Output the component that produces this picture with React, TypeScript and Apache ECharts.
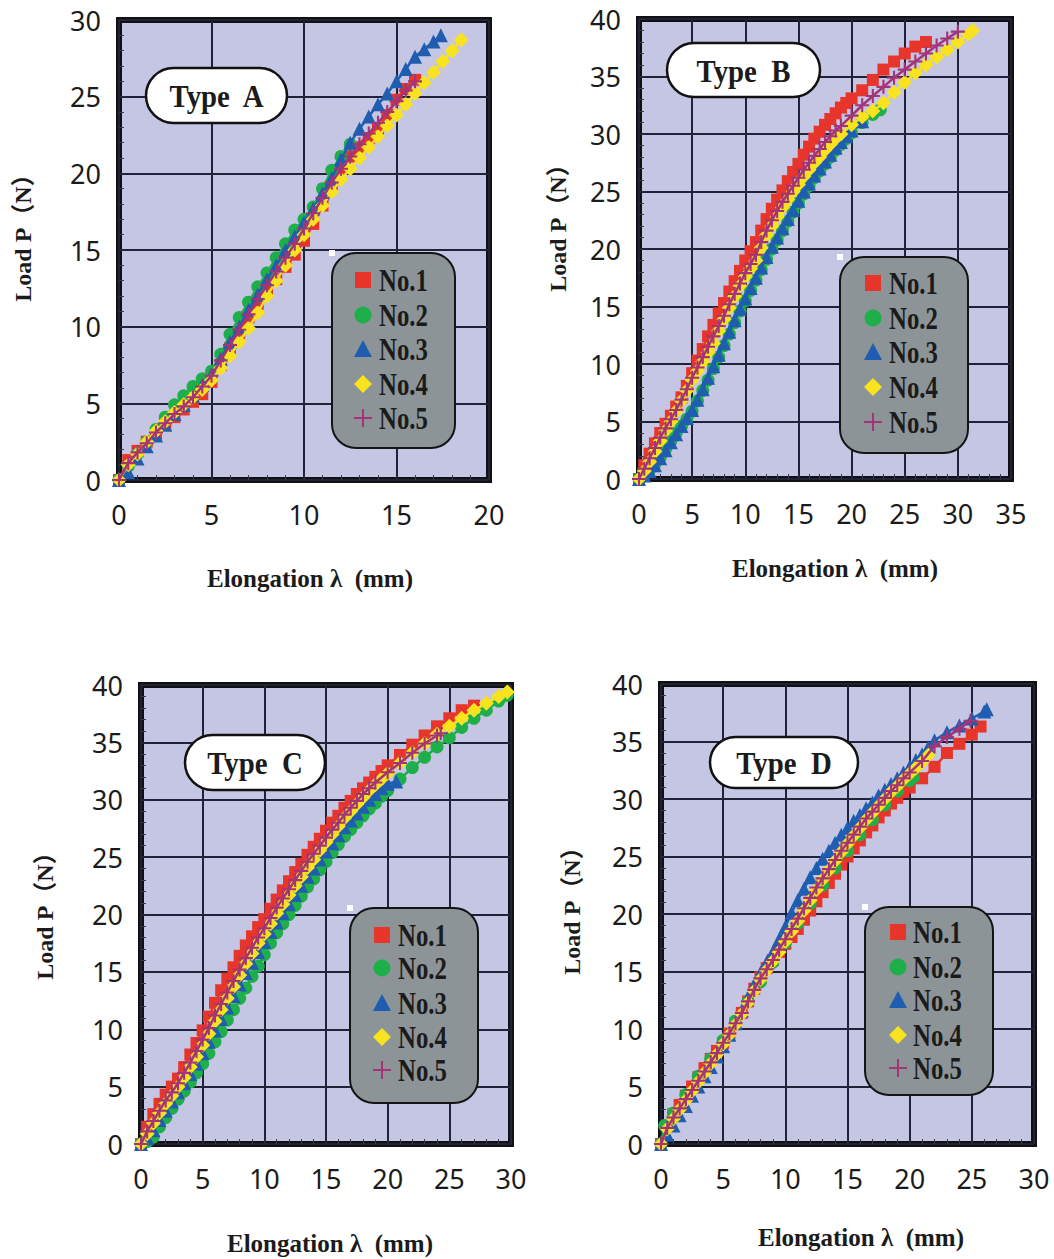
import React, { useEffect, useRef } from "react";
import * as echarts from "echarts";

// ---------- data ----------
const SERIES_NAMES = ["No.1", "No.2", "No.3", "No.4", "No.5"];
const PANEL_TITLES = ["Type  A", "Type  B", "Type  C", "Type  D"];
const X_TITLE = "Elongation λ  (mm)";
const Y_TITLE = "Load P（N）";
const X_MAX = [20, 35, 30, 30];
const Y_MAX = [30, 40, 40, 40];
const TICK_STEP = 5;

// flat [x, y, x, y, ...] lists
const A1 = [0,0, .5,1.3, 1,1.9, 1.5,2.5, 2,3.0, 2.5,3.6, 3,4.1, 3.5,4.6, 4,5.1, 4.5,5.6, 5,6.4, 5.5,7.5, 6,8.6, 6.5,9.6, 7,10.6, 7.5,11.5, 8,12.3, 8.5,13.1, 9,13.9, 9.5,14.7, 10,15.6, 10.5,16.7, 11,17.9, 11.5,19.1, 12,20.3, 12.5,21.1, 13,21.7, 13.5,22.3, 14,22.9, 14.5,23.8, 15,24.8, 15.5,25.5, 16,26.1];
const A2 = [0,0, .5,0.9, 1,1.7, 1.5,2.5, 2,3.3, 2.5,4.1, 3,4.9, 3.5,5.5, 4,6.1, 4.5,6.6, 5,7.1, 5.5,8.2, 6,9.5, 6.5,10.6, 7,11.6, 7.5,12.6, 8,13.5, 8.5,14.5, 9,15.4, 9.5,16.3, 10,17.0, 10.5,17.8, 11,19.0, 11.5,20.2, 12,21.1, 12.5,21.9];
const A3 = [0,0, .5,0.5, 1,1.4, 1.5,2.2, 2,2.9, 2.5,3.6, 3,4.3, 3.5,4.9, 4,5.5, 4.5,6.2, 5,6.9, 5.5,7.9, 6,9.0, 6.5,10.0, 7,11.1, 7.5,12.1, 8,13.1, 8.5,14.0, 9,15.0, 9.5,15.9, 10,16.8, 10.5,17.7, 11,18.7, 11.5,19.7, 12,20.9, 12.5,22.0, 13,22.9, 13.5,23.7, 14,24.5, 14.5,25.2, 15,26.0, 15.5,26.8, 16,27.6, 16.5,28.1, 17,28.6, 17.4,29.0];
const A4 = [0,0, .5,1.0, 1,1.7, 1.5,2.5, 2,3.2, 2.5,3.8, 3,4.4, 3.5,4.9, 4,5.4, 4.5,5.9, 5,6.5, 5.5,7.3, 6,8.1, 6.5,9.0, 7,9.9, 7.5,10.9, 8,12.0, 8.5,13.0, 9,14.0, 9.5,15.0, 10,16.0, 10.5,17.0, 11,17.9, 11.5,18.8, 12,19.6, 12.5,20.3, 13,21.0, 13.5,21.7, 14,22.4, 14.5,23.1, 15,23.8, 15.5,24.5, 16,25.2, 16.5,25.9, 17,26.6, 17.5,27.3, 18,28.0, 18.5,28.7];
const A5 = [0,0, .5,1.1, 1,1.8, 1.5,2.4, 2,3.1, 2.5,3.7, 3,4.3, 3.5,4.8, 4,5.4, 4.5,6.1, 5,6.8, 5.5,7.8, 6,8.8, 6.5,9.8, 7,10.8, 7.5,11.8, 8,12.7, 8.5,13.6, 9,14.5, 9.5,15.4, 10,16.4, 10.5,17.4, 11,18.4, 11.5,19.4, 12,20.3, 12.5,21.1, 13,21.9, 13.5,22.6, 14,23.3, 14.5,24.0, 15,24.7, 15.5,25.4, 16,26.0];

const B1 = [0,0, .5,1.2, 1,2.2, 1.5,3.1, 2,4.0, 2.5,4.8, 3,5.5, 3.5,6.3, 4,7.1, 4.5,8.1, 5,9.2, 5.5,10.3, 6,11.3, 6.5,12.4, 7,13.4, 7.5,14.4, 8,15.3, 8.5,16.3, 9,17.2, 9.5,18.1, 10,19.0, 10.5,19.8, 11,20.6, 11.5,21.6, 12,22.6, 12.5,23.5, 13,24.3, 13.5,25.1, 14,25.9, 14.5,26.7, 15,27.4, 15.5,28.2, 16,28.9, 16.5,29.6, 17,30.2, 17.5,30.8, 18,31.3, 18.5,31.8, 19,32.3, 19.5,32.7, 20,33.1, 21,33.8, 22,34.7, 23,35.6, 24,36.3, 25,37.0, 26,37.6, 27,38.0];
const B2 = [0,0, .5,0.4, 1,0.8, 1.5,1.3, 2,1.9, 2.5,2.6, 3,3.3, 3.5,4.0, 4,4.6, 4.5,5.2, 5,5.9, 5.5,6.8, 6,7.7, 6.5,8.6, 7,9.6, 7.5,10.6, 8,11.6, 8.5,12.6, 9,13.6, 9.5,14.6, 10,15.5, 10.5,16.4, 11,17.3, 11.5,18.2, 12,19.1, 12.5,20.0, 13,20.8, 13.5,21.6, 14,22.4, 14.5,23.2, 15,24.0, 15.5,24.8, 16,25.5, 16.5,26.2, 17,26.8, 17.5,27.4, 18,28.0, 18.5,28.6, 19,29.1, 19.5,29.6, 20,30.1, 21,31.0, 22,31.7, 22.7,32.1];
const B3 = [0,0, .5,0.3, 1,0.7, 1.5,1.2, 2,1.8, 2.5,2.5, 3,3.2, 3.5,3.9, 4,4.6, 4.5,5.3, 5,6.0, 5.5,6.9, 6,7.8, 6.5,8.8, 7,9.8, 7.5,10.8, 8,11.8, 8.5,12.8, 9,13.8, 9.5,14.8, 10,15.7, 10.5,16.6, 11,17.5, 11.5,18.4, 12,19.3, 12.5,20.2, 13,21.0, 13.5,21.8, 14,22.6, 14.5,23.4, 15,24.2, 15.5,25.0, 16,25.7, 16.5,26.4, 17,27.0, 17.5,27.6, 18,28.2, 18.5,28.8, 19,29.3, 19.5,29.8, 20,30.3, 21,31.1];
const B4 = [0,0, .5,0.7, 1,1.5, 1.5,2.4, 2,3.3, 2.5,4.2, 3,5.0, 3.5,5.9, 4,6.8, 4.5,7.7, 5,8.6, 5.5,9.4, 6,10.2, 6.5,11.0, 7,11.8, 7.5,12.9, 8,13.9, 8.5,14.9, 9,15.9, 9.5,16.8, 10,17.6, 10.5,18.3, 11,19.0, 11.5,20.1, 12,21.2, 12.5,22.0, 13,22.8, 13.5,23.6, 14,24.3, 14.5,25.0, 15,25.6, 15.5,26.3, 16,26.9, 16.5,27.5, 17,28.0, 17.5,28.6, 18,29.1, 18.5,29.6, 19,30.0, 20,30.8, 21,31.5, 22,32.0, 23,32.7, 24,33.6, 25,34.5, 26,35.3, 27,36.0, 28,36.7, 29,37.3, 30,38.0, 31,38.7, 31.4,39.0];
const B5 = [0,0, .5,0.9, 1,1.8, 1.5,2.7, 2,3.6, 2.5,4.4, 3,5.2, 3.5,6.0, 4,6.9, 4.5,7.8, 5,8.8, 5.5,9.7, 6,10.6, 6.5,11.5, 7,12.4, 7.5,13.3, 8,14.2, 8.5,15.2, 9,16.1, 9.5,17.0, 10,17.9, 10.5,18.7, 11,19.5, 11.5,20.6, 12,21.6, 12.5,22.5, 13,23.3, 13.5,24.1, 14,24.8, 14.5,25.5, 15,26.2, 15.5,26.9, 16,27.5, 16.5,28.1, 17,28.7, 17.5,29.3, 18,29.8, 18.5,30.3, 19,30.7, 20,31.6, 21,32.5, 22,33.3, 23,34.1, 24,34.9, 25,35.6, 26,36.3, 27,37.0, 28,37.7, 29,38.3, 30,38.9];

const C1 = [0,0, .5,1.5, 1,2.6, 1.5,3.5, 2,4.3, 2.5,5.0, 3,5.7, 3.5,6.7, 4,7.8, 4.5,8.8, 5,9.9, 5.5,11.1, 6,12.3, 6.5,13.4, 7,14.4, 7.5,15.4, 8,16.4, 8.5,17.3, 9,18.1, 9.5,18.9, 10,19.6, 10.5,20.5, 11,21.3, 11.5,22.1, 12,22.9, 12.5,23.7, 13,24.4, 13.5,25.2, 14,25.9, 14.5,26.6, 15,27.3, 15.5,28.0, 16,28.6, 16.5,29.3, 17,29.9, 17.5,30.5, 18,31.0, 18.5,31.5, 19,32.0, 19.5,32.5, 20,33.0, 21,33.9, 22,34.8, 23,35.6, 24,36.4, 25,37.1, 26,37.8, 27,38.2];
const C2 = [0,0, .5,0.2, 1,0.6, 1.5,1.5, 2,2.3, 2.5,3.1, 3,3.9, 3.5,4.6, 4,5.4, 4.5,6.2, 5,7.0, 5.5,7.9, 6,8.9, 6.5,9.8, 7,10.8, 7.5,11.7, 8,12.7, 8.5,13.6, 9,14.6, 9.5,15.5, 10,16.5, 10.5,17.5, 11,18.4, 11.5,19.2, 12,20.0, 12.5,20.8, 13,21.6, 13.5,22.4, 14,23.1, 14.5,23.9, 15,24.6, 15.5,25.4, 16,26.1, 16.5,26.8, 17,27.4, 17.5,28.0, 18,28.6, 18.5,29.2, 19,29.7, 19.5,30.3, 20,30.8, 21,31.8, 22,32.8, 23,33.7, 24,34.6, 25,35.4, 26,36.3, 27,37.1, 28,37.8, 29,38.6, 29.7,39.1];
const C3 = [0,0, .5,0.5, 1,1.2, 1.5,2.1, 2,2.9, 2.5,3.7, 3,4.5, 3.5,5.3, 4,6.1, 4.5,7.0, 5,7.9, 5.5,8.9, 6,9.9, 6.5,10.9, 7,11.9, 7.5,12.9, 8,13.9, 8.5,14.9, 9,15.8, 9.5,16.7, 10,17.6, 10.5,18.5, 11,19.3, 11.5,20.1, 12,20.9, 12.5,21.7, 13,22.5, 13.5,23.3, 14,24.0, 14.5,24.8, 15,25.5, 15.5,26.2, 16,26.9, 16.5,27.6, 17,28.2, 17.5,28.8, 18,29.4, 18.5,30.0, 19,30.5, 19.5,31.0, 20,31.4, 20.7,31.6];
const C4 = [0,0, .5,0.9, 1,1.8, 1.5,2.7, 2,3.5, 2.5,4.2, 3,5.0, 3.5,5.8, 4,6.7, 4.5,7.6, 5,8.6, 5.5,9.6, 6,10.7, 6.5,11.7, 7,12.7, 7.5,13.7, 8,14.7, 8.5,15.7, 9,16.6, 9.5,17.5, 10,18.3, 10.5,19.2, 11,20.1, 11.5,20.9, 12,21.7, 12.5,22.5, 13,23.3, 13.5,24.1, 14,24.8, 14.5,25.6, 15,26.3, 15.5,27.0, 16,27.7, 16.5,28.4, 17,29.0, 17.5,29.6, 18,30.2, 18.5,30.8, 19,31.3, 19.5,31.8, 20,32.3, 21,33.2, 22,34.1, 23,34.9, 24,35.7, 25,36.4, 26,37.1, 27,37.8, 28,38.4, 29,39.0, 29.7,39.4];
const C5 = [0,0, .5,1.1, 1,2.0, 1.5,2.9, 2,3.8, 2.5,4.5, 3,5.3, 3.5,6.2, 4,7.1, 4.5,8.1, 5,9.1, 5.5,10.1, 6,11.2, 6.5,12.2, 7,13.2, 7.5,14.2, 8,15.2, 8.5,16.2, 9,17.1, 9.5,18.0, 10,18.8, 10.5,19.7, 11,20.6, 11.5,21.4, 12,22.2, 12.5,23.0, 13,23.8, 13.5,24.6, 14,25.3, 14.5,26.0, 15,26.7, 15.5,27.4, 16,28.0, 16.5,28.7, 17,29.3, 17.5,29.9, 18,30.5, 18.5,31.0, 19,31.5, 20,32.4, 21,33.2, 22,34.1, 23,34.9, 24,35.6, 24.3,35.8];

const D1 = [0,0, .5,1.6, 1,2.6, 1.5,3.4, 2,4.2, 2.5,5.0, 3,5.8, 3.5,6.6, 4,7.4, 4.5,8.1, 5,8.8, 5.5,9.6, 6,10.5, 6.5,11.4, 7,12.4, 7.5,13.5, 8,14.5, 8.5,15.3, 9,16.0, 9.5,16.7, 10,17.4, 10.5,18.0, 11,18.7, 11.5,19.5, 12,20.3, 12.5,21.1, 13,21.9, 13.5,22.7, 14,23.5, 14.5,24.3, 15,25.0, 15.5,25.7, 16,26.4, 16.5,27.1, 17,27.7, 17.5,28.4, 18,29.0, 18.5,29.6, 19,30.1, 19.5,30.6, 20,31.0, 21,31.8, 22,32.8, 23,34.0, 24,34.8, 25,35.6, 25.7,36.3];
const D2 = [0,0, 0.3,1.6, 1,2.7, 2,4.3, 3,5.9, 4,7.4, 5,9.0, 6,10.7, 7,12.4, 8,14.1, 9,15.8, 10,17.5, 11,19.2, 12,20.9, 13,22.5, 14,24.0, 15,25.5, 16,26.9, 17,28.2, 18,29.5, 19,30.7, 20,31.6, 20.3,31.9];
const D3 = [0,0, .5,0.8, 1,1.6, 1.5,2.5, 2,3.3, 2.5,4.2, 3,5.0, 3.5,5.9, 4,6.7, 4.5,7.6, 5,8.5, 5.5,9.5, 6,10.5, 6.5,11.6, 7,12.8, 7.5,13.9, 8,14.9, 8.5,15.8, 9,16.7, 9.5,17.8, 10,18.9, 10.5,20.1, 11,21.2, 11.5,22.2, 12,23.2, 12.5,24.0, 13,24.8, 13.5,25.5, 14,26.2, 14.5,26.9, 15,27.5, 15.5,28.1, 16,28.6, 16.5,29.2, 17,29.7, 17.5,30.3, 18,30.8, 18.5,31.3, 19,31.8, 19.5,32.3, 20,32.8, 20.5,33.4, 21,33.9, 21.5,34.5, 22,35.1, 23,35.8, 24,36.4, 25,37.0, 26,37.6, 26.2,37.8];
const D4 = [0,0, .5,1.3, 1,2.2, 1.5,3.0, 2,3.8, 2.5,4.6, 3,5.4, 3.5,6.2, 4,7.0, 4.5,7.8, 5,8.7, 5.5,9.5, 6,10.4, 6.5,11.3, 7,12.3, 7.5,13.3, 8,14.3, 8.5,15.1, 9,15.9, 9.5,16.7, 10,17.6, 10.5,18.5, 11,19.4, 11.5,20.3, 12,21.2, 12.5,22.1, 13,23.0, 13.5,23.8, 14,24.6, 14.5,25.4, 15,26.1, 15.5,26.8, 16,27.5, 16.5,28.2, 17,28.8, 17.5,29.4, 18,30.0, 18.5,30.6, 19,31.1, 19.5,31.7, 20,32.2, 20.5,32.7, 21,33.2, 21.5,33.8];
const D5 = [0,0, .5,1.4, 1,2.3, 1.5,3.1, 2,3.9, 2.5,4.7, 3,5.5, 3.5,6.3, 4,7.1, 4.5,7.9, 5,8.8, 5.5,9.6, 6,10.5, 6.5,11.4, 7,12.4, 7.5,13.4, 8,14.4, 8.5,15.2, 9,16.0, 9.5,16.9, 10,17.8, 10.5,18.7, 11,19.6, 11.5,20.5, 12,21.4, 12.5,22.3, 13,23.1, 13.5,23.9, 14,24.7, 14.5,25.5, 15,26.2, 15.5,26.9, 16,27.6, 16.5,28.3, 17,28.9, 17.5,29.5, 18,30.1, 18.5,30.7, 19,31.2, 19.5,31.8, 20,32.3, 21,33.3, 22,34.6, 23,35.4, 24,36.1, 24.9,36.8];

const PANEL_DATA = [
  [A1, A2, A3, A4, A5],
  [B1, B2, B3, B4, B5],
  [C1, C2, C3, C4, C5],
  [D1, D2, D3, D4, D5],
];

// ---------- styles & layout ----------
const PLUS_PATH = "path://M5.1,0H6.9V5.1H12V6.9H6.9V12H5.1V6.9H0V5.1H5.1Z";
const SYMBOLS = ["rect", "circle", "triangle", "diamond", PLUS_PATH];
const SYMBOL_SIZES = [12, 13, 14, 15, 14];
const COLORS = ["#e8352c", "#1faf4a", "#1f5db0", "#f9e21e", "#a33477"];

const LAYOUT = [
  { grid: { left: 119, top: 20, width: 370, height: 460 }, pill: { x: 146, y: 68, w: 141, h: 55 },
    legend: { x: 332, y: 253, w: 123, h: 195, rows: [280, 315, 349, 384, 418], iconX: 363, textX: 379 },
    xTitle: { x: 310, y: 578 }, yTitle: { x: 23, y: 232 } },
  { grid: { left: 639, top: 19, width: 372, height: 460 }, pill: { x: 667, y: 43, w: 153, h: 54 },
    legend: { x: 840, y: 257, w: 128, h: 196, rows: [283, 318, 352, 387, 422], iconX: 873, textX: 889 },
    xTitle: { x: 835, y: 568 }, yTitle: { x: 558, y: 222 } },
  { grid: { left: 141, top: 685, width: 370, height: 459 }, pill: { x: 185, y: 735, w: 140, h: 55 },
    legend: { x: 350, y: 908, w: 128, h: 195, rows: [935, 968, 1003, 1037, 1070], iconX: 382, textX: 398 },
    xTitle: { x: 330, y: 1243 }, yTitle: { x: 45, y: 910 } },
  { grid: { left: 661, top: 684, width: 373, height: 460 }, pill: { x: 710, y: 737, w: 148, h: 51 },
    legend: { x: 865, y: 907, w: 128, h: 188, rows: [932, 967, 1000, 1035, 1068], iconX: 898, textX: 913 },
    xTitle: { x: 861, y: 1237 }, yTitle: { x: 572, y: 905 } },
];

const SERIF = '"Liberation Serif", "Times New Roman", "Noto Sans CJK JP", serif';
const SANS = '"Noto Sans", "Open Sans", sans-serif';
const TEXT_COLOR = "#1b1b1b";

function pairs(flat: number[]): number[][] {
  const out: number[][] = [];
  for (let i = 0; i + 1 < flat.length; i += 2) out.push([flat[i], flat[i + 1]]);
  return out;
}

function txt(x: number, y: number, text: string, font: string, align: string, extra: any = {}) {
  return {
    type: "text", x, y, z: 100, silent: true, ...extra,
    style: { text, font, fill: TEXT_COLOR, align, textAlign: align, verticalAlign: "middle", textVerticalAlign: "middle" },
  };
}

function legendIcon(k: number, cx: number, cy: number): any[] {
  const c = COLORS[k];
  const base = { z: 101, silent: true };
  if (k === 0) return [{ type: "rect", ...base, shape: { x: cx - 8, y: cy - 8, width: 16, height: 16 }, style: { fill: c } }];
  if (k === 1) return [{ type: "circle", ...base, shape: { cx, cy, r: 8.5 }, style: { fill: c } }];
  if (k === 2) return [{ type: "polygon", ...base, shape: { points: [[cx, cy - 9], [cx + 9, cy + 8], [cx - 9, cy + 8]] }, style: { fill: c } }];
  if (k === 3) return [{ type: "polygon", ...base, shape: { points: [[cx, cy - 9], [cx + 9, cy], [cx, cy + 9], [cx - 9, cy]] }, style: { fill: c } }];
  return [
    { type: "rect", ...base, shape: { x: cx - 9, y: cy - 1, width: 18, height: 2 }, style: { fill: c } },
    { type: "rect", ...base, shape: { x: cx - 1, y: cy - 9, width: 2, height: 18 }, style: { fill: c } },
  ];
}

function buildOption() {
  const grid: any[] = [];
  const xAxis: any[] = [];
  const yAxis: any[] = [];
  const series: any[] = [];
  const graphic: any[] = [];

  const axisCommon = {
    type: "value",
    interval: TICK_STEP,
    min: 0,
    axisLine: { show: false },
    axisTick: { show: true, inside: true, length: 6, lineStyle: { color: "#2a2a3a", width: 1 } },
    minorTick: { show: true, splitNumber: 5, length: 5, lineStyle: { color: "#3a3a4a", width: 1 } },
    splitLine: { show: true, lineStyle: { color: "#20223a", width: 2 } },
    minorSplitLine: { show: false },
  };

  LAYOUT.forEach((L, i) => {
    grid.push({
      ...L.grid, show: true, backgroundColor: "#c4c6e3", borderColor: "#111111", borderWidth: 6,
    });
    xAxis.push({
      ...axisCommon, gridIndex: i, max: X_MAX[i],
      axisLabel: { margin: 21, fontSize: 27, fontFamily: SANS, color: TEXT_COLOR },
    });
    yAxis.push({
      ...axisCommon, gridIndex: i, max: Y_MAX[i],
      axisLabel: { margin: 18, fontSize: 27, fontFamily: SANS, color: TEXT_COLOR },
    });

    PANEL_DATA[i].forEach((flat, k) => {
      series.push({
        type: "line",
        name: SERIES_NAMES[k],
        xAxisIndex: i,
        yAxisIndex: i,
        data: pairs(flat),
        symbol: SYMBOLS[k],
        symbolSize: SYMBOL_SIZES[k],
        showAllSymbol: true,
        clip: false,
        silent: true,
        itemStyle: { color: COLORS[k] },
        lineStyle: { color: COLORS[k], width: 2.5 },
        z: 2 + k,
      });
    });

    // type label pill
    const P = L.pill;
    graphic.push({
      type: "rect", z: 100, silent: true,
      shape: { x: P.x, y: P.y, width: P.w, height: P.h, r: P.h / 2 },
      style: { fill: "#ffffff", stroke: "#111111", lineWidth: 2.5 },
    });
    graphic.push(txt(P.x + P.w / 2, P.y + P.h / 2 + 1, PANEL_TITLES[i], `bold 32px ${SERIF}`, "center", { scaleX: 0.9 }));

    // legend box
    const G = L.legend;
    graphic.push({
      type: "rect", z: 100, silent: true,
      shape: { x: G.x, y: G.y, width: G.w, height: G.h, r: 24 },
      style: { fill: "#8d9497", stroke: "#141414", lineWidth: 2 },
    });
    graphic.push({
      type: "rect", z: 102, silent: true,
      shape: { x: G.x - 3, y: G.y - 3, width: 6, height: 6 },
      style: { fill: "#ffffff" },
    });
    SERIES_NAMES.forEach((name, k) => {
      legendIcon(k, G.iconX, G.rows[k]).forEach((e) => graphic.push(e));
      graphic.push(txt(G.textX, G.rows[k] + 1, name, `bold 31px ${SERIF}`, "left", { scaleX: 0.8 }));
    });

    // axis titles
    graphic.push(txt(L.xTitle.x, L.xTitle.y, X_TITLE, `bold 25px ${SERIF}`, "center"));
    graphic.push(txt(L.yTitle.x, L.yTitle.y, Y_TITLE, `bold 24px ${SERIF}`, "center", { rotation: Math.PI / 2 }));
  });

  return {
    animation: false,
    backgroundColor: "#ffffff",
    grid, xAxis, yAxis, series, graphic,
  };
}

export default function App() {
  const ref = useRef<HTMLDivElement>(null);
  useEffect(() => {
    document.body.style.margin = "0";
    if (!ref.current) return;
    const chart = echarts.init(ref.current, null, { renderer: "svg" });
    chart.setOption(buildOption() as any);
    return () => chart.dispose();
  }, []);
  return <div ref={ref} style={{ width: 1054, height: 1259 }} />;
}
